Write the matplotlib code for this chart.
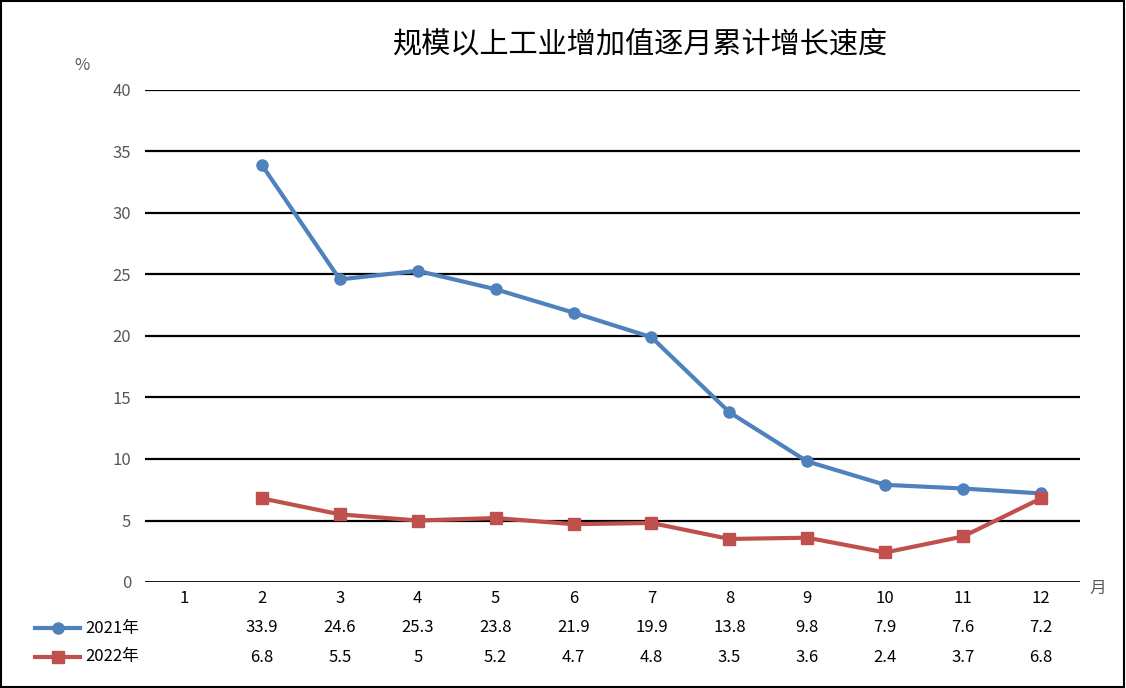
import matplotlib
matplotlib.use("Agg")
import matplotlib.pyplot as plt
from matplotlib.lines import Line2D
import numpy as np

plt.rcParams['font.family'] = ['Noto Sans CJK SC', 'DejaVu Sans']

months = [1, 2, 3, 4, 5, 6, 7, 8, 9, 10, 11, 12]
v2021 = [None, 33.9, 24.6, 25.3, 23.8, 21.9, 19.9, 13.8, 9.8, 7.9, 7.6, 7.2]
v2022 = [None, 6.8, 5.5, 5, 5.2, 4.7, 4.8, 3.5, 3.6, 2.4, 3.7, 6.8]
labels = ['2021年', '2022年']
colors = ['#4f81bd', '#c0504d']
markers = ['o', 's']

W, H = 1126, 688
fig = plt.figure(figsize=(W / 100, H / 100), dpi=100)
ax = fig.add_axes([145 / W, 1 - 582 / H, (1080 - 145) / W, (582 - 90) / H])

x = np.arange(len(months))
for vals, c, m in zip([v2021, v2022], colors, markers):
    y = np.array([np.nan if v is None else v for v in vals], dtype=float)
    ax.plot(x, y, color=c, lw=3, marker=m, ms=8, zorder=3)

ax.set_xlim(-0.5, len(months) - 0.5)
ax.set_ylim(0, 40)
ax.set_yticks(range(0, 41, 5))
for yv in range(5, 41, 5):
    ax.axhline(yv, color='black', lw=1.6, zorder=1)
ax.axhline(0, color='black', lw=2, zorder=1)
for s in ax.spines.values():
    s.set_visible(False)
ax.tick_params(axis='y', length=0, pad=10, labelsize=12, labelcolor='#595959')
ax.set_xticks(x)
ax.set_xticklabels([str(m) for m in months], fontsize=12)
ax.tick_params(axis='x', length=0, pad=6)

fig.text(641 / W, 1 - 44 / H, '规模以上工业增加值逐月累计增长速度', ha='center', va='center', fontsize=21)
fig.text(82 / W, 1 - 66 / H, '%', ha='center', va='center', fontsize=12, color='#595959')
fig.text(1098 / W, 1 - 588 / H, '月', ha='center', va='center', fontsize=12, color='#595959')

# data table below the axis
row_y = [628, 657]
for vals, lab, c, m, ry in zip([v2021, v2022], labels, colors, markers, row_y):
    yf = 1 - ry / H
    fig.add_artist(Line2D([35 / W, 80 / W], [yf, yf], color=c, lw=3,
                          transform=fig.transFigure))
    fig.add_artist(Line2D([57.5 / W], [yf], color=c, marker=m, ms=8,
                          transform=fig.transFigure))
    fig.text(85 / W, yf, lab, ha='left', va='center', fontsize=12)
    for i, v in enumerate(vals):
        if v is None:
            continue
        xf = (145 + (i + 0.5) * (1080 - 145) / len(months)) / W
        fig.text(xf, yf, f'{v:g}', ha='center', va='center', fontsize=12)

fig.add_artist(plt.Rectangle((0.001, 0.001), 0.997, 0.997, fill=False,
                             edgecolor='black', lw=1.5, transform=fig.transFigure))

fig.savefig('out.png', dpi=100)
